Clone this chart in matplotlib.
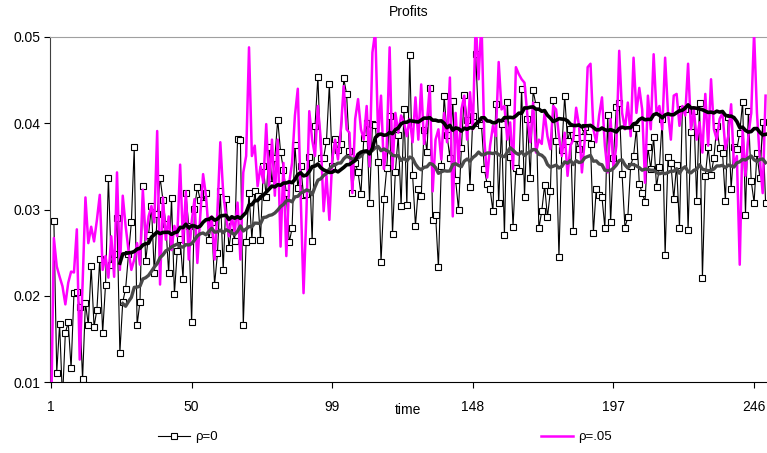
import numpy as np
import pandas as pd
import matplotlib
matplotlib.use("Agg")
import matplotlib.pyplot as plt

plt.rcParams['font.family'] = ['Liberation Sans', 'DejaVu Sans']

# profits per period, rho=0 (first period not shown)
rho0 = [
    np.nan, 0.0287, 0.0111, 0.0167, 0.0080, 0.0157, 0.0169, 0.0116, 0.0203, 0.0204,
    0.0187, 0.0103, 0.0192, 0.0166, 0.0234, 0.0164, 0.0184, 0.0243, 0.0157, 0.0213,
    0.0337, 0.0236, 0.0248, 0.0290, 0.0134, 0.0193, 0.0208, 0.0248, 0.0285, 0.0372,
    0.0166, 0.0193, 0.0327, 0.0240, 0.0271, 0.0304, 0.0226, 0.0295, 0.0337, 0.0311,
    0.0283, 0.0226, 0.0313, 0.0202, 0.0252, 0.0266, 0.0220, 0.0319, 0.0281, 0.0169,
    0.0301, 0.0326, 0.0311, 0.0308, 0.0319, 0.0265, 0.0285, 0.0213, 0.0249, 0.0321,
    0.0230, 0.0312, 0.0255, 0.0281, 0.0263, 0.0382, 0.0381, 0.0166, 0.0262, 0.0319,
    0.0265, 0.0322, 0.0316, 0.0265, 0.0350, 0.0314, 0.0373, 0.0330, 0.0360, 0.0404,
    0.0367, 0.0346, 0.0319, 0.0262, 0.0278, 0.0375, 0.0325, 0.0350, 0.0317, 0.0318,
    0.0361, 0.0263, 0.0397, 0.0454, 0.0360, 0.0360, 0.0380, 0.0445, 0.0350, 0.0382,
    0.0369, 0.0376, 0.0452, 0.0434, 0.0368, 0.0319, 0.0354, 0.0343, 0.0318, 0.0383,
    0.0400, 0.0308, 0.0399, 0.0398, 0.0355, 0.0239, 0.0312, 0.0348, 0.0408, 0.0272,
    0.0344, 0.0386, 0.0304, 0.0416, 0.0305, 0.0479, 0.0340, 0.0281, 0.0324, 0.0316,
    0.0392, 0.0367, 0.0441, 0.0288, 0.0294, 0.0233, 0.0350, 0.0432, 0.0386, 0.0360,
    0.0426, 0.0334, 0.0300, 0.0371, 0.0433, 0.0404, 0.0326, 0.0408, 0.0480, 0.0400,
    0.0398, 0.0347, 0.0329, 0.0324, 0.0298, 0.0422, 0.0307, 0.0399, 0.0270, 0.0425,
    0.0361, 0.0280, 0.0348, 0.0345, 0.0440, 0.0315, 0.0405, 0.0337, 0.0438, 0.0421,
    0.0278, 0.0298, 0.0328, 0.0291, 0.0321, 0.0427, 0.0380, 0.0245, 0.0369, 0.0432,
    0.0380, 0.0393, 0.0275, 0.0383, 0.0370, 0.0384, 0.0396, 0.0384, 0.0376, 0.0273,
    0.0324, 0.0317, 0.0314, 0.0279, 0.0410, 0.0285, 0.0360, 0.0419, 0.0423, 0.0341,
    0.0279, 0.0291, 0.0351, 0.0362, 0.0394, 0.0330, 0.0319, 0.0309, 0.0372, 0.0347,
    0.0384, 0.0326, 0.0349, 0.0405, 0.0247, 0.0361, 0.0354, 0.0312, 0.0352, 0.0279,
    0.0416, 0.0416, 0.0276, 0.0390, 0.0414, 0.0310, 0.0424, 0.0221, 0.0339, 0.0372,
    0.0340, 0.0360, 0.0397, 0.0371, 0.0366, 0.0310, 0.0407, 0.0324, 0.0373, 0.0370,
    0.0389, 0.0425, 0.0294, 0.0414, 0.0333, 0.0308, 0.0365, 0.0337, 0.0401, 0.0308,
]

# profits per period, rho=.05
rho05 = [
    0.0050, 0.0267, 0.0234, 0.0222, 0.0211, 0.0190, 0.0215, 0.0228, 0.0227, 0.0277,
    0.0126, 0.0213, 0.0314, 0.0261, 0.0280, 0.0263, 0.0288, 0.0317, 0.0230, 0.0246,
    0.0221, 0.0269, 0.0222, 0.0343, 0.0230, 0.0316, 0.0281, 0.0253, 0.0230, 0.0242,
    0.0261, 0.0236, 0.0323, 0.0265, 0.0292, 0.0304, 0.0285, 0.0391, 0.0213, 0.0314,
    0.0265, 0.0292, 0.0253, 0.0281, 0.0269, 0.0352, 0.0261, 0.0321, 0.0242, 0.0285,
    0.0312, 0.0238, 0.0292, 0.0341, 0.0316, 0.0273, 0.0292, 0.0242, 0.0298, 0.0378,
    0.0319, 0.0292, 0.0269, 0.0292, 0.0273, 0.0308, 0.0242, 0.0343, 0.0362, 0.0488,
    0.0362, 0.0374, 0.0327, 0.0350, 0.0331, 0.0399, 0.0327, 0.0381, 0.0316, 0.0381,
    0.0257, 0.0354, 0.0246, 0.0331, 0.0354, 0.0409, 0.0440, 0.0316, 0.0203, 0.0296,
    0.0414, 0.0381, 0.0362, 0.0420, 0.0381, 0.0298, 0.0339, 0.0288, 0.0358, 0.0381,
    0.0358, 0.0393, 0.0443, 0.0393, 0.0389, 0.0319, 0.0405, 0.0428, 0.0393, 0.0381,
    0.0420, 0.0350, 0.0482, 0.0507, 0.0385, 0.0432, 0.0347, 0.0374, 0.0488, 0.0347,
    0.0412, 0.0389, 0.0409, 0.0401, 0.0385, 0.0405, 0.0378, 0.0430, 0.0381, 0.0445,
    0.0376, 0.0401, 0.0443, 0.0321, 0.0381, 0.0393, 0.0358, 0.0412, 0.0378, 0.0453,
    0.0292, 0.0412, 0.0354, 0.0416, 0.0432, 0.0381, 0.0436, 0.0393, 0.0520, 0.0451,
    0.0520, 0.0381, 0.0337, 0.0374, 0.0397, 0.0385, 0.0471, 0.0416, 0.0420, 0.0381,
    0.0401, 0.0347, 0.0465, 0.0457, 0.0451, 0.0447, 0.0409, 0.0378, 0.0424, 0.0366,
    0.0381, 0.0376, 0.0412, 0.0385, 0.0370, 0.0420, 0.0416, 0.0385, 0.0362, 0.0389,
    0.0339, 0.0374, 0.0381, 0.0418, 0.0397, 0.0343, 0.0381, 0.0465, 0.0469, 0.0393,
    0.0378, 0.0409, 0.0430, 0.0374, 0.0343, 0.0405, 0.0347, 0.0374, 0.0484, 0.0412,
    0.0393, 0.0424, 0.0385, 0.0476, 0.0412, 0.0441, 0.0416, 0.0331, 0.0432, 0.0393,
    0.0480, 0.0412, 0.0420, 0.0393, 0.0476, 0.0412, 0.0381, 0.0432, 0.0434, 0.0397,
    0.0420, 0.0409, 0.0469, 0.0393, 0.0416, 0.0381, 0.0401, 0.0366, 0.0434, 0.0374,
    0.0451, 0.0393, 0.0381, 0.0405, 0.0412, 0.0370, 0.0385, 0.0422, 0.0350, 0.0362,
    0.0236, 0.0393, 0.0339, 0.0385, 0.0412, 0.0505, 0.0412, 0.0358, 0.0319, 0.0432,
]

xticks = [1, 50, 99, 148, 197, 246]
ma_window = 25

df = pd.DataFrame({"rho0": rho0, "rho05": rho05}, index=np.arange(1, len(rho0) + 1))
ma0 = df["rho0"].rolling(ma_window).mean()
ma05 = df["rho05"].rolling(ma_window).mean()

fig = plt.figure(figsize=(7.67, 4.53), dpi=100)
ax = fig.add_axes([50 / 767, 1 - 382 / 453, 717 / 767, 345 / 453])

l0, = ax.plot(df.index, df["rho0"], color="black", lw=0.8, marker="s", ms=5,
              mfc="white", mec="black", mew=0.8, zorder=2, label="ρ=0")
l1, = ax.plot(df.index, df["rho05"], color="#ff00ff", lw=1.8, zorder=3, label="ρ=.05")
ax.plot(df.index, ma0, color="#4a4a4a", lw=2.4, zorder=4)
ax.plot(df.index, ma05, color="black", lw=2.6, zorder=5)

ax.set_xlim(0.65, 250.5)
ax.set_ylim(0.01, 0.05)
ax.set_xticks(xticks)
ax.set_yticks([0.01, 0.02, 0.03, 0.04, 0.05])
ax.yaxis.set_major_formatter(matplotlib.ticker.FormatStrFormatter("%.2f"))
ax.tick_params(axis="x", direction="out", length=4, width=0.8, pad=9, labelsize=10)
ax.tick_params(axis="y", direction="out", length=4, width=0.8, pad=3, labelsize=10)

ax.spines["right"].set_visible(False)
ax.spines["top"].set_color("#a0a0a0")
ax.spines["left"].set_color("#404040")
ax.spines["bottom"].set_color("black")

ax.set_title("Profits", fontsize=10, pad=15)
ax.set_xlabel("time", fontsize=10, labelpad=-8)

fig.legend([l0, l1], ["ρ=0", "ρ=.05"], loc="center", bbox_to_anchor=(0.502, 0.035),
           ncol=2, frameon=False, fontsize=9.5, columnspacing=24.5, handlelength=2.4,
           handletextpad=0.4)

fig.savefig("out.png", dpi=100)
